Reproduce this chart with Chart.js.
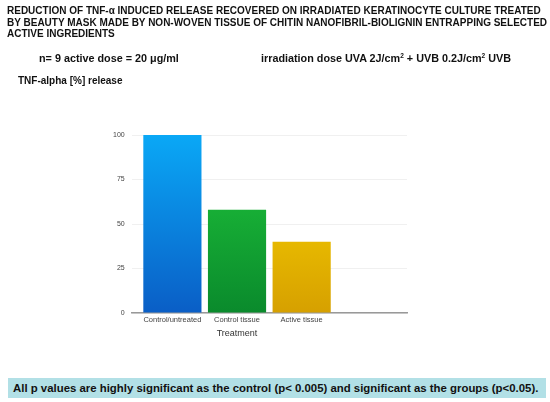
<!DOCTYPE html>
<html lang="en">
<head>
    <meta charset="UTF-8">
    <script src="https://cdn.jsdelivr.net/npm/chart.js@4/dist/chart.umd.min.js"></script>
    <title>TNF-alpha release</title>
    <style>
        body { margin: 0; background: #fff; font-family: "Liberation Sans", Arial, sans-serif; }
        #wrap { position: relative; width: 550px; height: 402px; }
        #wrap canvas { position: absolute; left: 0; top: 0; }
        .t { position: absolute; font-weight: bold; color: #111; white-space: nowrap; }
        #title { left: 7px; top: 5px; font-size: 10px; line-height: 11.5px; }
        #dose { left: 39px; top: 52px; font-size: 10.8px; }
        #irr { left: 261px; top: 52px; font-size: 10.8px; }
        #ylab { left: 18px; top: 75px; font-size: 10px; }
        #note { left: 8px; top: 378px; width: 533px; height: 20px; line-height: 20px; padding-left: 5px;
                background: #b2e0e6; font-size: 11.4px; }
        sup { font-size: 6.5px; vertical-align: 4px; }
    </style>
</head>
<body>
    <div id="wrap">
        <canvas id="myChart" width="550" height="402"></canvas>
        <div class="t" id="title">REDUCTION OF TNF-&alpha; INDUCED RELEASE RECOVERED ON IRRADIATED KERATINOCYTE CULTURE TREATED<br>BY BEAUTY MASK MADE BY NON-WOVEN TISSUE OF CHITIN NANOFIBRIL-BIOLIGNIN ENTRAPPING SELECTED<br>ACTIVE INGREDIENTS</div>
        <div class="t" id="dose">n= 9 active dose = 20 &mu;g/ml</div>
        <div class="t" id="irr">irradiation dose UVA 2J/cm<sup>2</sup> + UVB 0.2J/cm<sup>2</sup> UVB</div>
        <div class="t" id="ylab">TNF-alpha [%] release</div>
        <div class="t" id="note">All p values are highly significant as the control (p&lt; 0.005) and significant as the groups (p&lt;0.05).</div>
    </div>
    <script>
        var labels = ['Control/untreated', 'Control tissue', 'Active tissue'];
        var values = [100, 58, 40];
        var yTicks = [0, 25, 50, 75, 100];

        // top / bottom colour of each bar's gradient
        var topColors = ['#0aa8f6', '#20c83c', '#ffdc00'];
        var bottomColors = ['#0a5ec6', '#0a8a2c', '#d6a000'];

        function barFill(c) {
            var area = c.chart.chartArea;
            if (!area) return topColors[c.dataIndex];
            var g = c.chart.ctx.createLinearGradient(0, area.top, 0, area.bottom);
            g.addColorStop(0, topColors[c.dataIndex]);
            g.addColorStop(1, bottomColors[c.dataIndex]);
            return g;
        }

        // x axis title sits under the middle category
        var xTitle = {
            id: 'xTitle',
            afterDraw: function(chart) {
                var x = chart.scales.x;
                var ctx = chart.ctx;
                ctx.save();
                ctx.font = '9px "Liberation Sans", Arial, sans-serif';
                ctx.fillStyle = '#333';
                ctx.textAlign = 'center';
                ctx.textBaseline = 'middle';
                ctx.fillText('Treatment', x.getPixelForValue(1), x.top + 21);
                ctx.restore();
            }
        };

        var ctx = document.getElementById('myChart').getContext('2d');
        var chart = new Chart(ctx, {
            type: 'bar',
            data: {
                datasets: [{
                    data: values.map(function(v, i) { return {x: i, y: v}; }),
                    backgroundColor: barFill,
                    borderWidth: 0,
                    barPercentage: 0.9,
                    categoryPercentage: 1
                }]
            },
            plugins: [xTitle],
            options: {
                responsive: false,
                animation: false,
                layout: { padding: { left: 106, right: 143, top: 135, bottom: 76 } },
                plugins: { legend: { display: false }, tooltip: { enabled: false } },
                scales: {
                    x: {
                        type: 'linear',
                        offset: false,
                        min: -0.63,
                        max: 3.63,
                        afterBuildTicks: function(s) {
                            s.ticks = labels.map(function(l, i) { return {value: i}; });
                        },
                        ticks: {
                            callback: function(v) { return labels[v]; },
                            font: { size: 7.5, family: '"Liberation Sans", Arial, sans-serif' },
                            color: '#444',
                            padding: 2,
                            maxRotation: 0,
                            autoSkip: false
                        },
                        grid: { display: false, drawTicks: false },
                        border: { display: true, color: '#999', width: 1.5 }
                    },
                    y: {
                        min: 0,
                        max: 100,
                        afterBuildTicks: function(s) {
                            s.ticks = yTicks.map(function(v) { return {value: v}; });
                        },
                        ticks: {
                            font: { size: 7, family: '"Liberation Sans", Arial, sans-serif' },
                            color: '#444',
                            padding: 7
                        },
                        grid: { color: '#f0f0f0', drawTicks: false },
                        border: { display: false }
                    }
                }
            }
        });
    </script>
</body>
</html>
